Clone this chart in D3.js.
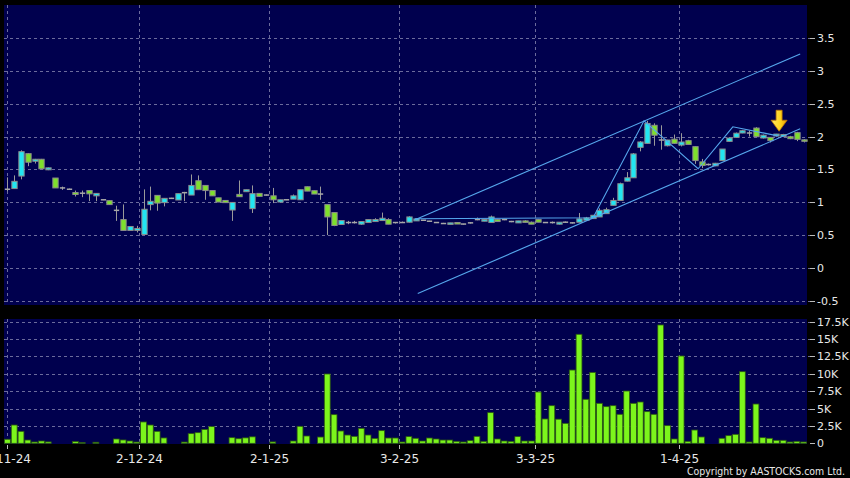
<!DOCTYPE html>
<html><head><meta charset="utf-8">
<script src="https://cdn.jsdelivr.net/npm/d3@7"></script>
<style>html,body{margin:0;padding:0;background:#000;}svg{display:block}</style>
</head><body>
<svg id="c" width="850" height="478"></svg>
<script>
// ---- data ----
const opens = [1.20,1.21,1.40,1.74,1.625,1.655,1.495,1.37,1.22,1.20,
1.15,1.14,1.18,1.10,1.04,1.027,0.88,0.74,0.575,0.575,
0.514,0.967,1.107,0.997,1.062,1.037,1.148,1.112,1.329,1.258,
1.18,1.07,1.03,0.885,1.122,1.163,0.906,1.137,1.112,1.10,
1.006,1.04,1.05,1.04,1.238,1.178,1.127,0.967,0.846,0.665,
0.695,0.695,0.67,0.695,0.71,0.725,0.74,0.695,0.695,0.70,
0.72,0.73,0.715,0.695,0.68,0.68,0.695,0.672,0.69,0.74,
0.715,0.695,0.74,0.74,0.71,0.69,0.72,0.70,0.74,0.695,
0.695,0.67,0.70,0.69,0.70,0.73,0.755,0.78,0.83,0.956,
1.03,1.323,1.374,1.836,1.896,2.17,1.947,1.86,1.96,1.87,
1.937,1.846,1.615,1.575,1.555,1.635,1.926,1.987,2.053,2.053,
2.128,1.977,1.987,2.007,2.0,1.997,2.058,1.95];
const highs = [1.38,1.41,1.79,1.75,1.66,1.66,1.53,1.37,1.24,1.21,
1.18,1.18,1.18,1.14,1.045,1.03,0.95,0.97,0.635,0.645,
1.198,1.24,1.107,1.062,1.07,1.133,1.16,1.424,1.41,1.258,
1.18,1.07,1.03,1.0,1.333,1.193,1.258,1.137,1.12,1.22,
1.04,1.045,1.12,1.193,1.24,1.18,1.24,0.967,0.846,0.725,
0.72,0.72,0.71,0.74,0.76,0.846,0.76,0.70,0.71,0.79,
0.75,0.735,0.72,0.70,0.69,0.69,0.70,0.675,0.70,0.77,
0.74,0.80,0.75,0.75,0.72,0.72,0.73,0.71,0.75,0.70,
0.71,0.70,0.71,0.70,0.84,0.78,0.81,0.91,0.92,1.07,
1.30,1.46,1.75,1.93,2.238,2.20,2.17,1.95,2.03,2.05,
1.95,1.85,1.66,1.59,1.60,1.81,1.99,2.06,2.10,2.09,
2.14,2.03,1.99,2.04,2.04,2.01,2.07,1.96];
const lows = [1.17,1.21,1.35,1.55,1.59,1.51,1.49,1.22,1.19,1.19,
1.09,1.08,1.02,1.02,1.035,0.967,0.72,0.575,0.575,0.545,
0.514,0.88,0.874,0.94,1.055,1.037,1.02,1.112,1.193,1.04,
1.10,1.006,0.997,0.72,1.087,1.163,0.84,1.092,1.105,0.99,
1.0,1.035,1.05,1.04,1.172,1.127,1.04,0.504,0.64,0.665,
0.67,0.68,0.66,0.695,0.71,0.725,0.67,0.68,0.69,0.695,
0.72,0.725,0.71,0.69,0.675,0.68,0.68,0.665,0.68,0.73,
0.715,0.695,0.71,0.73,0.70,0.69,0.695,0.67,0.70,0.69,
0.68,0.665,0.69,0.68,0.70,0.73,0.755,0.78,0.83,0.956,
1.03,1.32,1.374,1.775,1.896,1.86,1.80,1.85,1.89,1.85,
1.88,1.585,1.52,1.56,1.55,1.635,1.92,1.98,2.05,2.00,
1.997,1.97,1.91,2.0,1.99,1.96,1.93,1.91];
const closes = [1.20,1.32,1.77,1.61,1.655,1.51,1.525,1.22,1.22,1.20,
1.12,1.14,1.13,1.137,1.04,0.967,0.88,0.575,0.635,0.605,
0.896,1.017,0.99,1.062,1.062,1.133,1.148,1.258,1.193,1.18,
1.10,1.006,0.997,1.0,1.087,1.193,1.133,1.092,1.112,1.04,
1.04,1.04,1.10,1.193,1.172,1.127,1.127,0.78,0.65,0.725,
0.695,0.695,0.71,0.74,0.74,0.76,0.67,0.695,0.695,0.78,
0.75,0.73,0.715,0.695,0.68,0.69,0.68,0.672,0.69,0.74,
0.74,0.78,0.71,0.74,0.71,0.72,0.70,0.67,0.70,0.695,
0.695,0.70,0.70,0.69,0.75,0.765,0.805,0.88,0.89,1.03,
1.284,1.374,1.736,1.917,2.198,2.02,1.947,1.947,1.896,1.917,
1.88,1.635,1.56,1.575,1.594,1.81,1.977,2.05,2.088,2.053,
1.997,2.02,1.937,2.037,2.03,1.967,1.957,1.93];
const volumesK = [0.58,2.63,1.72,0.47,0.19,0.33,0.2,0,0,0,
0.25,0.1,0,0.15,0,0,0.62,0.48,0.33,0.18,
3.07,2.63,1.72,0.77,0,0,0.18,1.39,1.53,2.0,
2.4,0,0,0.81,0.66,0.78,0.93,0,0,0.2,
0,0,0.33,2.44,1.05,0,0.9,9.97,4.12,1.77,
1.19,1.0,2.15,1.19,0.71,1.82,0.76,0.76,0.19,0.96,
0.72,0.33,0.76,0.62,0.47,0.47,0.28,0.19,0.38,1.0,
0.28,4.41,0.62,0.33,0.28,0.96,0.33,0.33,7.38,3.5,
5.41,3.47,2.87,10.54,15.68,6.33,10.2,5.75,5.27,5.41,
4.17,7.52,5.75,5.94,4.55,4.17,17.02,2.54,0.62,12.56,
0.28,1.91,0.91,0,0,0.72,1.1,1.29,10.3,0.19,
5.65,0.81,0.72,0.43,0.43,0.19,0.28,0.19];
const dateLabels = ["1-11-24","2-12-24","2-1-25","3-2-25","3-3-25","1-4-25"];
const dateIndex = [-0.1, 19.4, 38.5, 57.5, 77.6, 98.7];
const priceTicks = [-0.5,0,0.5,1,1.5,2,2.5,3,3.5];
const volumeTicksK = [0,2.5,5,7.5,10,12.5,15,17.5];
// trend annotations: [bar index, price]
const upperLine = [[59.9,0.738],[116.5,3.253]];
const lowerLine = [[60.3,-0.383],[116.5,2.117]];
const zigzag = [[59.9,0.753],[86.06,0.768],[93.55,2.238],[101.5,1.511],[106.6,2.147],[113.2,2.01]];
const arrowAt = [113.4, 2.08];

// ---- drawing ----
const svg = d3.select("#c");
const N = opens.length;
const L = 4, R = 807;
const x = d3.scaleLinear().domain([-0.5, N - 0.5]).range([L, R]);
const step = x(1) - x(0);
const y = d3.scaleLinear().domain([-0.556, 3.995]).range([305, 5]);
const yv = d3.scaleLinear().domain([0, 17.88]).range([443.3, 319]);

svg.append("rect").attr("width",850).attr("height",478).attr("fill","#000");
svg.append("rect").attr("x",L).attr("y",5).attr("width",R-L).attr("height",300).attr("fill","#00004e");
svg.append("rect").attr("x",L).attr("y",319).attr("width",R-L).attr("height",125).attr("fill","#00004e");

const gridCol = "#6b6b9c";
svg.append("g").selectAll("line").data(priceTicks).join("line")
  .attr("x1",L).attr("x2",812).attr("y1",d=>Math.round(y(d))+0.5).attr("y2",d=>Math.round(y(d))+0.5)
  .attr("stroke",gridCol).attr("stroke-dasharray","3,3");
svg.append("g").selectAll("line").data(volumeTicksK.filter(d=>d>0)).join("line")
  .attr("x1",L).attr("x2",812).attr("y1",d=>Math.round(yv(d))+0.5).attr("y2",d=>Math.round(yv(d))+0.5)
  .attr("stroke",gridCol).attr("stroke-dasharray","3,3");
dateIndex.forEach(i=>{
  const xx = Math.round(x(i))+0.5;
  svg.append("line").attr("x1",xx).attr("x2",xx).attr("y1",5).attr("y2",305).attr("stroke",gridCol).attr("stroke-dasharray","3,3");
  svg.append("line").attr("x1",xx).attr("x2",xx).attr("y1",319).attr("y2",444).attr("stroke",gridCol).attr("stroke-dasharray","3,3");
});

const font = "'DejaVu Sans', Verdana, sans-serif";
const pAxis = svg.append("g");
priceTicks.forEach(t=>{
  const yy = Math.round(y(t))+0.5;
  pAxis.append("line").attr("x1",810).attr("x2",815).attr("y1",yy).attr("y2",yy).attr("stroke","#bbb");
  pAxis.append("text").attr("x",817).attr("y",yy).attr("dy","0.36em").attr("fill","#e8e8e8")
    .attr("font-family",font).attr("font-size",11).text(t);
});
const vAxis = svg.append("g");
volumeTicksK.forEach(t=>{
  const yy = Math.round(yv(t))+0.5;
  vAxis.append("line").attr("x1",810).attr("x2",815).attr("y1",yy).attr("y2",yy).attr("stroke","#bbb");
  vAxis.append("text").attr("x",817).attr("y",yy).attr("dy","0.36em").attr("fill","#e8e8e8")
    .attr("font-family",font).attr("font-size",11).text(t===0?"0":t+"K");
});
dateLabels.forEach((lab,k)=>{
  const xx = Math.round(x(dateIndex[k]))+0.5;
  svg.append("line").attr("x1",xx).attr("x2",xx).attr("y1",445).attr("y2",449).attr("stroke","#bbb");
  svg.append("text").attr("x",xx).attr("y",462.5).attr("text-anchor","middle").attr("fill","#e8e8e8")
    .attr("font-family",font).attr("font-size",12).text(lab);
});

// volume bars
const vw = step*0.86;
svg.append("g").selectAll("rect").data(volumesK).join("rect")
  .attr("x",(d,i)=>x(i)-vw/2).attr("width",vw)
  .attr("y",d=>yv(d)).attr("height",d=>Math.max(0,yv(0)-yv(d)))
  .attr("fill","#7cf51c").attr("stroke","#2c5a10").attr("stroke-width",0.8)
  .attr("display",d=>d>0?null:"none");

// candles
const bw = step*0.78;
const cg = svg.append("g");
for(let i=0;i<N;i++){
  const o=opens[i], c=closes[i], h=highs[i], l=lows[i];
  const cx = Math.round(x(i))+0.5;
  cg.append("line").attr("x1",cx).attr("x2",cx).attr("y1",y(h)).attr("y2",y(l)).attr("stroke","#9a9a9a").attr("stroke-width",1);
  if(Math.abs(o-c)<0.004){
    cg.append("line").attr("x1",cx-bw/2).attr("x2",cx+bw/2).attr("y1",y(o)).attr("y2",y(o)).attr("stroke","#a8a8a8").attr("stroke-width",1.5);
  } else {
    const top = y(Math.max(o,c)), bot = y(Math.min(o,c));
    cg.append("rect").attr("x",cx-bw/2).attr("width",bw).attr("y",top).attr("height",Math.max(1.5,bot-top))
      .attr("fill", c>o ? "#22e6f2" : "#7ee02c").attr("stroke","#8c8c8c").attr("stroke-width",1);
  }
}

// trend lines
const lineGen = d3.line().x(d=>x(d[0])).y(d=>y(d[1]));
const tl = svg.append("g").attr("fill","none").attr("stroke","#55a6ec").attr("stroke-width",1.1);
[upperLine, lowerLine, zigzag].forEach(p=>tl.append("path").attr("d",lineGen(p)));

// arrow
const ax = x(arrowAt[0]), ay = y(arrowAt[1]);
const defs = svg.append("defs");
const gr = defs.append("linearGradient").attr("id","ag").attr("x1",0).attr("x2",1).attr("y1",0).attr("y2",0);
gr.append("stop").attr("offset","0%").attr("stop-color","#ffe866");
gr.append("stop").attr("offset","60%").attr("stop-color","#ffd21a");
gr.append("stop").attr("offset","100%").attr("stop-color","#e59a00");
svg.append("path")
  .attr("d",`M${ax},${ay} L${ax-8},${ay-11} L${ax-3},${ay-11} L${ax-3},${ay-21} L${ax+3},${ay-21} L${ax+3},${ay-11} L${ax+8},${ay-11} Z`)
  .attr("fill","url(#ag)").attr("stroke","#c07800").attr("stroke-width",0.8);

svg.append("text").attr("x",845).attr("y",474.5).attr("text-anchor","end").attr("fill","#e8e8e8")
  .attr("font-family",font).attr("font-size",11).attr("textLength",158).attr("lengthAdjust","spacingAndGlyphs")
  .text("Copyright by AASTOCKS.com Ltd.");
</script>
</body></html>
